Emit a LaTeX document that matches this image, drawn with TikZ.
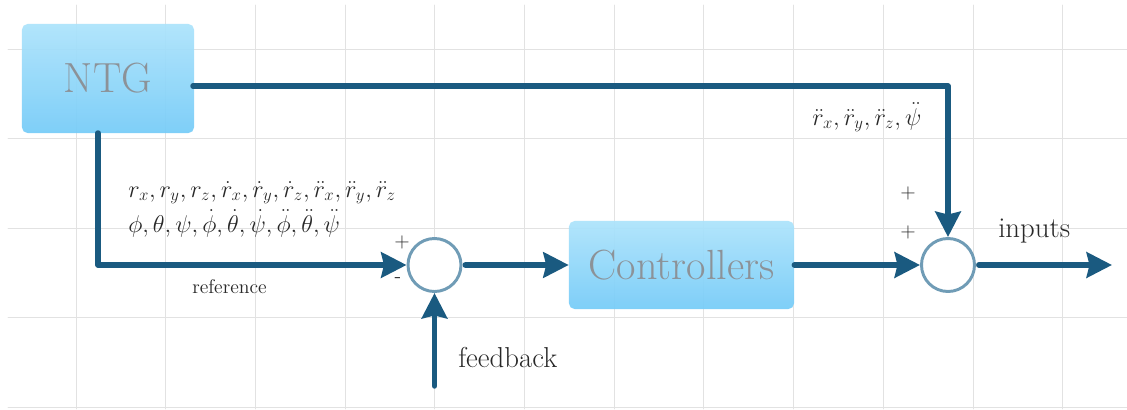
\documentclass[tikz,border=0pt]{standalone}
\usepackage{fontspec}
\usepackage{amsmath,amssymb}
\usetikzlibrary{arrows.meta,positioning}
\definecolor{fg}{RGB}{26,90,128}
\definecolor{ring}{RGB}{112,156,182}
\definecolor{boxtop}{RGB}{172,227,251}
\definecolor{boxbot}{RGB}{116,203,248}
\definecolor{boxtxt}{RGB}{140,146,152}
\definecolor{gridc}{RGB}{226,226,226}
\definecolor{txt}{RGB}{40,40,40}
\tikzset{
  every picture/.style={line cap=round, line join=round,
    >={Stealth[length=18pt,width=18pt,inset=2pt]}},
  % Signalleitungen
  sig/.style={fg, line width=3.9pt},
  gridline/.style={gridc, line width=0.6pt},
  % Bloecke
  block/.style={rectangle, rounded corners=4pt, top color=boxtop, bottom color=boxbot,
    fill opacity=0.92, text opacity=1, text=boxtxt, inner sep=0pt,
    font=\fontsize{30}{34}\selectfont},
  sumnode/.style={circle, draw=ring, line width=2.1pt, fill=white,
    minimum size=1.325cm, inner sep=0pt},
  % Beschriftung
  lbl/.style={inner sep=0pt, anchor=base west, text=txt},
  mathlbl/.style={lbl, font=\fontsize{17.28}{20}\selectfont},
  sgn/.style={inner sep=0pt, text=txt, font=\fontsize{14.4}{16}\selectfont},
}
\begin{document}
\begin{tikzpicture}[x=0.025cm, y=-0.025cm]
  \fill[white] (0,0) rectangle (1127,409);
  \useasboundingbox (0,0) rectangle (1127,409);
  % Raster
  \foreach \gx in {0,...,11}
    \draw[gridline] ({76+89.7*\gx},5) -- ({76+89.7*\gx},409);
  \foreach \gy in {0,...,4}
    \draw[gridline] (8,{49+89.5*\gy}) -- (1127,{49+89.5*\gy});
  % Bloecke und Summierer
  \node[block, minimum width=4.3cm, minimum height=2.725cm] (ntg) at (108,78.5) {NTG};
  \node[block, minimum width=5.625cm, minimum height=2.2cm] (ctrl) at (681.5,265) {Controllers};
  \node[sumnode] (sum1) at (434.5,265) {};
  \node[sumnode] (sum2) at (948,265) {};
  \coordinate (ntgtop) at (193,86);
  \coordinate (ntgbot) at (98,133);
  \coordinate (fbin) at (434.5,386);
  \coordinate (outend) at (1112,265);
  % Verbindungen
  \draw[sig, ->] (ntgtop) -| (sum2.north);
  \draw[sig, ->] (ntgbot) |- (sum1.west);
  \draw[sig, ->] (fbin) -- (sum1.south);
  \draw[sig, ->, shorten <=2pt] (sum1.east) -- (ctrl.west);
  \draw[sig, ->] (ctrl.east) -- (sum2.west);
  \draw[sig, ->, shorten <=2pt] (sum2.east) -- (outend);
  % Texte
  \node[mathlbl] (refpos) at (128,197) {$r_x, r_y, r_z, \dot{r}_x, \dot{r}_y, \dot{r}_z, \ddot{r}_x, \ddot{r}_y, \ddot{r}_z$};
  \node[mathlbl] (refang) at (128,232) {$\phi, \theta, \psi, \dot{\phi}, \dot{\theta}, \dot{\psi}, \ddot{\phi}, \ddot{\theta}, \ddot{\psi}$};
  \node[mathlbl] (ffacc) at (812,125) {$\ddot{r}_x, \ddot{r}_y, \ddot{r}_z, \ddot{\psi}$};
  \node[lbl, font=\fontsize{14}{16}\selectfont] (reflbl) at (192,293) {reference};
  \node[lbl, font=\fontsize{20.5}{24}\selectfont] (fblbl) at (458,367) {feedback};
  \node[lbl, font=\fontsize{20.5}{24}\selectfont] (outlbl) at (998,237) {inputs};
  \node[sgn] (plusa) at (402,242) {$+$};
  \node[sgn] (minusa) at (398,280) {-};
  \node[sgn] (plusb) at (908,193) {$+$};
  \node[sgn] (plusc) at (908,232) {$+$};
\end{tikzpicture}
\end{document}
